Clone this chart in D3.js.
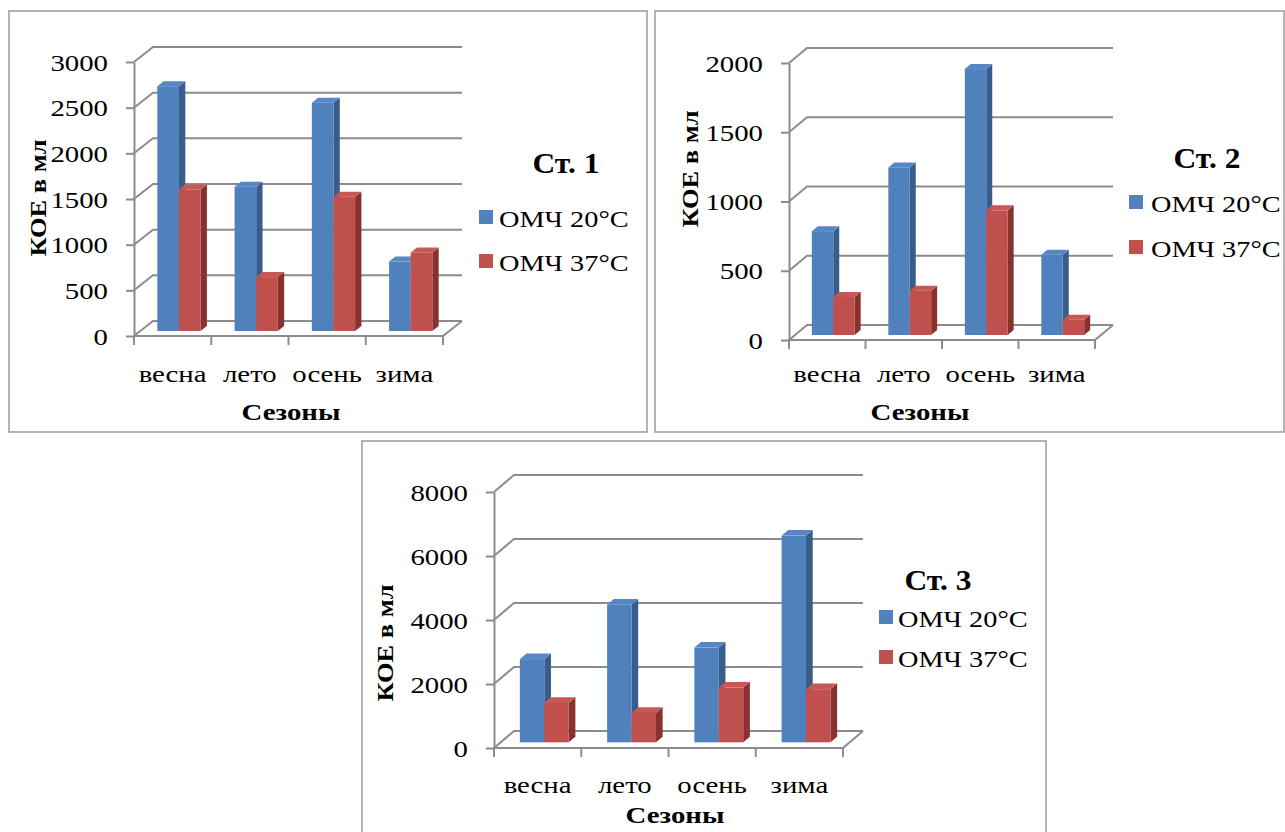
<!DOCTYPE html>
<html>
<head>
<meta charset="utf-8">
<script src="https://cdn.jsdelivr.net/npm/d3@7/dist/d3.min.js"></script>
<style>
  html, body { margin: 0; padding: 0; background: #fff; }
  svg { display: block; }
  text { font-family: "Liberation Serif", "Times New Roman", serif; fill: #000; }
</style>
</head>
<body>
<svg id="chart" width="1285" height="832"></svg>
<script>
// ---- data ----
const seasons = ["весна", "лето", "осень", "зима"];
const seriesNames = ["ОМЧ 20°C", "ОМЧ 37°C"];
const chartTitles = ["Ст. 1", "Ст. 2", "Ст. 3"];
const xAxisTitle = "Сезоны";
const yAxisTitle = "КОЕ в мл";

const st1Omch20 = [2680, 1580, 2500, 760];
const st1Omch37 = [1550, 590, 1470, 860];
const st2Omch20 = [750, 1210, 1920, 580];
const st2Omch37 = [275, 320, 900, 110];
const st3Omch20 = [2600, 4300, 2960, 6460];
const st3Omch37 = [1230, 920, 1710, 1660];

const st1Ticks = [0, 500, 1000, 1500, 2000, 2500, 3000];
const st2Ticks = [0, 500, 1000, 1500, 2000];
const st3Ticks = [0, 2000, 4000, 6000, 8000];

// ---- styling ----
const colors = {
  front: ["#4F81BD", "#C0504D"],
  top:   ["#5687C4", "#C75853"],
  side:  ["#385D8A", "#87322F"]
};
const gridColor = "#8C8C8C";
const frameColor = "#9A9A9A";
const TEXT_SX = 1.2;

// ---- layout of the three panels ----
const panels = [
  { title: chartTitles[0], s20: st1Omch20, s37: st1Omch37, ticks: st1Ticks,
    frame: [9, 11, 638, 421], x0: 134, x1: 443, y0: 336, yTop: 62, dx: 19, dy: -15,
    titleX: 566, titleY: 173, legX: 479, legY: [210, 254], legTextX: 499,
    catY: 382, xtX: 291, xtY: 420, ytX: 46, ytY: 198 },
  { title: chartTitles[1], s20: st2Omch20, s37: st2Omch37, ticks: st2Ticks,
    frame: [655, 11, 629, 421], x0: 789, x1: 1095, y0: 340, yTop: 63, dx: 18, dy: -15,
    titleX: 1207, titleY: 168, legX: 1129, legY: [195, 240], legTextX: 1151,
    catY: 382, xtX: 920, xtY: 420, ytX: 698, ytY: 169 },
  { title: chartTitles[2], s20: st3Omch20, s37: st3Omch37, ticks: st3Ticks,
    frame: [362, 441, 684, 400], x0: 494, x1: 843, y0: 748, yTop: 492, dx: 20, dy: -17,
    titleX: 938, titleY: 590, legX: 879, legY: [610, 650], legTextX: 898,
    catY: 793, xtX: 675, xtY: 823, ytX: 393, ytY: 643 }
];

const svg = d3.select("#chart");

function label(g, str, x, y, opt) {
  const o = Object.assign({ size: 24, weight: "normal", anchor: "start", sx: TEXT_SX, rot: 0 }, opt || {});
  return g.append("text")
    .attr("transform", `translate(${x},${y}) rotate(${o.rot}) scale(${o.sx},1)`)
    .attr("text-anchor", o.anchor)
    .attr("font-size", o.size)
    .attr("font-weight", o.weight)
    .text(str);
}

function drawPanel(p) {
  const g = svg.append("g");
  const [fx, fy, fw, fh] = p.frame;
  g.append("rect").attr("x", fx).attr("y", fy).attr("width", fw).attr("height", fh)
    .attr("fill", "#fff").attr("stroke", frameColor).attr("stroke-width", 1.5);

  const maxV = p.ticks[p.ticks.length - 1];
  const y = d3.scaleLinear().domain([0, maxV]).range([p.y0, p.yTop]);
  const x = d3.scaleBand().domain(seasons).range([p.x0, p.x1]).padding(0);
  const xs = d3.scaleBand().domain(seriesNames).range([0, x.bandwidth()])
    .paddingInner(0).paddingOuter(0.786);

  // back wall gridlines and left wall diagonals
  const grid = g.append("g").attr("fill", "none").attr("stroke", gridColor).attr("stroke-width", 2);
  p.ticks.forEach(t => {
    const yy = y(t);
    grid.append("polyline").attr("points",
      [[p.x0, yy], [p.x0 + p.dx, yy + p.dy], [p.x1 + p.dx, yy + p.dy]].map(d => d.join(",")).join(" "));
  });
  // floor front and right edges
  grid.append("polyline").attr("points",
    [[p.x0, p.y0], [p.x1, p.y0], [p.x1 + p.dx, p.y0 + p.dy]].map(d => d.join(",")).join(" "));
  // category boundary ticks
  const bounds = seasons.map(s => x(s)).concat([p.x1]);
  bounds.forEach(bx => {
    grid.append("line").attr("x1", bx).attr("x2", bx).attr("y1", p.y0).attr("y2", p.y0 + 9);
  });

  // y axis
  const yAxis = d3.axisLeft(y).tickValues(p.ticks).tickFormat(d3.format("d"))
    .tickSize(8).tickSizeOuter(0);
  const ya = g.append("g").attr("transform", `translate(${p.x0},0)`).call(yAxis);
  ya.select(".domain").attr("stroke", gridColor).attr("stroke-width", 2);
  ya.selectAll(".tick line").attr("stroke", gridColor).attr("stroke-width", 2);
  ya.selectAll(".tick text")
    .attr("x", null).attr("dy", null)
    .attr("transform", `translate(-26,8) scale(${TEXT_SX},1)`)
    .attr("font-family", null).attr("font-size", 24).attr("fill", "#000");

  // x axis labels
  const xAxis = d3.axisBottom(x).tickSize(0).tickPadding(0);
  const xa = g.append("g").attr("transform", `translate(0,${p.catY})`).call(xAxis);
  xa.select(".domain").remove();
  xa.selectAll(".tick text")
    .attr("y", null).attr("dy", null)
    .attr("transform", `scale(${TEXT_SX},1)`)
    .attr("font-family", null).attr("font-size", 24).attr("fill", "#000");

  // 3D columns: faces sit between 1/3 and 2/3 of the wall depth
  const f = 1 / 3;
  const bdx = p.dx * f, bdy = p.dy * f;
  const series = [p.s20, p.s37];
  seasons.forEach((s, i) => {
    series.forEach((vals, k) => {
      const xl = x(s) + xs(seriesNames[k]) + p.dx * f;
      const xr = xl + xs.bandwidth();
      const yb = y(0) + p.dy * f;
      const yt = y(vals[i]) + p.dy * f;
      const bar = g.append("g");
      bar.append("polygon").attr("fill", colors.side[k]).attr("points",
        [[xr, yt], [xr + bdx, yt + bdy], [xr + bdx, yb + bdy], [xr, yb]].map(d => d.join(",")).join(" "));
      bar.append("polygon").attr("fill", colors.top[k]).attr("points",
        [[xl, yt], [xr, yt], [xr + bdx, yt + bdy], [xl + bdx, yt + bdy]].map(d => d.join(",")).join(" "));
      bar.append("rect").attr("fill", colors.front[k])
        .attr("x", xl).attr("y", yt).attr("width", xr - xl).attr("height", yb - yt);
    });
  });

  // axis titles
  label(g, xAxisTitle, p.xtX, p.xtY, { weight: "bold", anchor: "middle" });
  label(g, yAxisTitle, p.ytX, p.ytY, { weight: "bold", anchor: "middle", rot: -90, size: 23, sx: 1.15 });

  // chart title and legend
  label(g, p.title, p.titleX, p.titleY, { weight: "bold", anchor: "middle", size: 30, sx: 1.05 });
  seriesNames.forEach((name, k) => {
    g.append("rect").attr("x", p.legX).attr("y", p.legY[k]).attr("width", 14).attr("height", 14)
      .attr("fill", colors.front[k]);
    label(g, name, p.legTextX, p.legY[k] + 17, { size: 24, sx: 1.18 });
  });
}

panels.forEach(drawPanel);
</script>
</body>
</html>
